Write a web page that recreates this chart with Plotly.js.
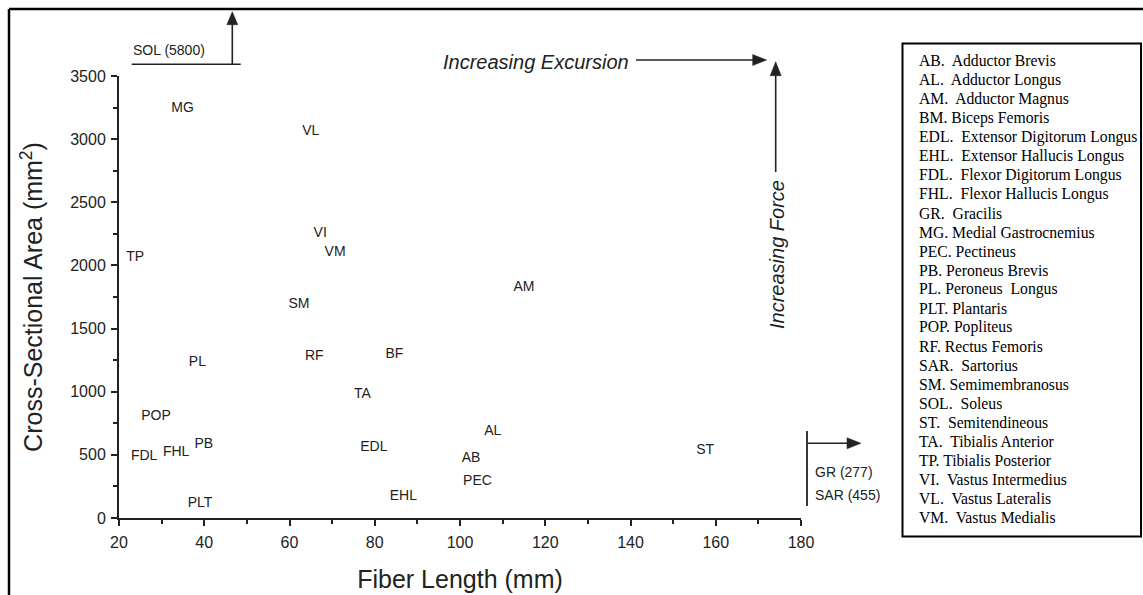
<!DOCTYPE html>
<html>
<head>
<meta charset="utf-8">
<script src="https://cdn.plot.ly/plotly-3.0.1.min.js"></script>
<style>html,body{margin:0;padding:0;background:#fff;}#chart{width:1143px;height:595px;}</style>
</head>
<body>
<div id="chart"></div>
<script>
// ---- data ----
const muscles   = ['MG','VL','VI','VM','TP','SM','RF','PL','BF','TA','POP','PB','FHL','FDL','EDL','PLT','EHL','AL','AB','PEC','ST','AM'];
const fiberLen  = [34.9, 65.0, 67.2, 70.7, 23.8, 62.2, 65.8, 38.4, 84.6, 77.1, 28.7, 39.9, 33.4, 25.9, 79.8, 39.0, 86.7, 107.7, 102.6, 104.1, 157.5, 115.0];
const csaArea   = [3240, 3060, 2255, 2100, 2065, 1690, 1280, 1235, 1295, 980, 805, 585, 520, 488, 560, 118, 170, 685, 468, 290, 535, 1825];

// off-scale muscles
const offNames  = ['SOL', 'GR', 'SAR'];
const offValues = [5800, 277, 455];

const xTickVals = [20, 40, 60, 80, 100, 120, 140, 160, 180];
const yTickVals = [0, 500, 1000, 1500, 2000, 2500, 3000, 3500];

const legendLines = [
  'AB.\u00a0 Adductor Brevis',
  'AL.\u00a0 Adductor Longus',
  'AM.\u00a0 Adductor Magnus',
  'BM. Biceps Femoris',
  'EDL.\u00a0 Extensor Digitorum Longus',
  'EHL.\u00a0 Extensor Hallucis Longus',
  'FDL.\u00a0 Flexor Digitorum Longus',
  'FHL.\u00a0 Flexor Hallucis Longus',
  'GR.\u00a0 Gracilis',
  'MG. Medial Gastrocnemius',
  'PEC. Pectineus',
  'PB. Peroneus Brevis',
  'PL. Peroneus\u00a0 Longus',
  'PLT. Plantaris',
  'POP. Popliteus',
  'RF. Rectus Femoris',
  'SAR.\u00a0 Sartorius',
  'SM. Semimembranosus',
  'SOL.\u00a0 Soleus',
  'ST.\u00a0 Semitendineous',
  'TA.\u00a0 Tibialis Anterior',
  'TP. Tibialis Posterior',
  'VI.\u00a0 Vastus Intermedius',
  'VL.\u00a0 Vastus Lateralis',
  'VM.\u00a0 Vastus Medialis'
];

// ---- layout geometry ----
const W = 1143, H = 595, ML = 119, MR = 342, MT = 76, MB = 77;
const PW = W - ML - MR, PH = H - MT - MB;
const fx = p => (p - ML) / PW;          // pixel x -> paper
const fy = p => (H - MB - p) / PH;      // pixel y -> paper

const ink = '#222';
const sans = 'Liberation Sans, Arial, Helvetica, sans-serif';
const serif = 'Liberation Serif, Times New Roman, serif';

const trace = {
  type: 'scatter',
  mode: 'text',
  x: fiberLen,
  y: csaArea,
  text: muscles,
  textposition: 'middle center',
  textfont: {family: sans, size: 14, color: ink},
  cliponaxis: false,
  hoverinfo: 'x+y+text',
  showlegend: false
};

const shapes = [
  // outer frame (top and left)
  {type:'line', xref:'paper', yref:'paper', x0: fx(9), x1: fx(1143), y0: fy(9), y1: fy(9), line:{color:'#000', width:2.5}},
  {type:'line', xref:'paper', yref:'paper', x0: fx(9), x1: fx(9), y0: fy(9), y1: fy(595), line:{color:'#000', width:2.5}},
  // legend box
  {type:'rect', xref:'paper', yref:'paper', x0: fx(902.5), x1: fx(1141), y0: fy(43.5), y1: fy(536.5), line:{color:'#000', width:2}, fillcolor:'rgba(0,0,0,0)'},
  // SOL baseline
  {type:'line', xref:'paper', yref:'paper', x0: fx(131.7), x1: fx(240.7), y0: fy(64.3), y1: fy(64.3), line:{color:ink, width:1.5}},
  // GR / SAR bar
  {type:'line', xref:'paper', yref:'paper', x0: fx(807), x1: fx(807), y0: fy(431), y1: fy(506), line:{color:ink, width:1.8}}
];

// arrow = line shape + filled triangular head (pixel geometry converted to paper)
function arrow(tipX, tipY, tailX, tailY, len, half) {
  const dx = tipX - tailX, dy = tipY - tailY, d = Math.hypot(dx, dy);
  const ux = dx / d, uy = dy / d;
  const bx = tipX - ux * len, by = tipY - uy * len;
  shapes.push({type:'line', xref:'paper', yref:'paper', x0: fx(tailX), y0: fy(tailY), x1: fx(bx + ux * 2), y1: fy(by + uy * 2), line:{color: ink, width: 1.6}});
  const p1 = [bx - uy * half, by + ux * half], p2 = [bx + uy * half, by - ux * half];
  shapes.push({type:'path', xref:'paper', yref:'paper',
    path: 'M ' + fx(tipX) + ',' + fy(tipY) + ' L ' + fx(p1[0]) + ',' + fy(p1[1]) + ' L ' + fx(p2[0]) + ',' + fy(p2[1]) + ' Z',
    fillcolor: ink, line:{color: ink, width: 0.5}});
}
arrow(232.3, 11.7, 232.3, 64.3, 13, 5.5);
arrow(766.7, 60, 636, 60, 14, 5.5);
arrow(775.7, 61.7, 775.7, 172, 14, 5.5);
arrow(861, 443.3, 807.7, 443.3, 14, 5.5);

function label(text, px, py, opts) {
  return Object.assign({xref:'paper', yref:'paper', x: fx(px), y: fy(py), text: text, showarrow:false,
          xanchor:'center', yanchor:'middle', font:{family: sans, size: 14, color: ink}}, opts || {});
}

const annotations = [
  label(offNames[0] + ' (' + offValues[0] + ')', 168.8, 50),
  label('<i>Increasing Excursion</i>', 536.3, 61.7, {font:{family: sans, size: 20, color: ink}}),
  label('<i>Increasing Force</i>', 777, 255, {textangle: -90, font:{family: sans, size: 20, color: ink}}),
  label(offNames[1] + ' (' + offValues[1] + ')', 813, 472.3, {xanchor:'left'}),
  label(offNames[2] + ' (' + offValues[2] + ')', 813, 495, {xanchor:'left'})
];

legendLines.forEach((t, i) => {
  annotations.push({xref:'paper', yref:'paper', x: fx(916.5), y: fy(61 + i * 19.01), text: t, showarrow:false,
    xanchor:'left', yanchor:'middle', font:{family: serif, size: 15.7, color:'#000'}});
});

const layout = {
  width: W, height: H,
  margin: {l: ML, r: MR, t: MT, b: MB, pad: 0},
  paper_bgcolor: '#fff', plot_bgcolor: '#fff',
  font: {family: sans, color: ink},
  xaxis: {
    range: [20, 180], tickvals: xTickVals, ticktext: xTickVals.map(String),
    showline: true, linewidth: 2, linecolor: ink, mirror: false,
    ticks: 'outside', ticklen: 6, tickwidth: 1.5, tickcolor: ink,
    minor: {ticks: 'outside', ticklen: 4, tickwidth: 1.5, tickcolor: ink, dtick: 10, tick0: 20, showgrid: false},
    showgrid: false, zeroline: false,
    tickfont: {family: sans, size: 16, color: ink},
    ticklabelstandoff: 3,
    title: {text: 'Fiber Length (mm)', font: {family: sans, size: 25, color: ink}, standoff: 20},
    automargin: false, fixedrange: true
  },
  yaxis: {
    range: [0, 3500], tickvals: yTickVals, ticktext: yTickVals.map(String),
    showline: true, linewidth: 2, linecolor: ink, mirror: false,
    ticks: 'outside', ticklen: 6, tickwidth: 1.5, tickcolor: ink,
    minor: {ticks: 'outside', ticklen: 4, tickwidth: 1.5, tickcolor: ink, dtick: 250, tick0: 0, showgrid: false},
    showgrid: false, zeroline: false,
    tickfont: {family: sans, size: 16, color: ink},
    ticklabelstandoff: 2,
    title: {text: 'Cross-Sectional Area (mm<sup>2</sup>)', font: {family: sans, size: 25, color: ink}, standoff: 20},
    automargin: false, fixedrange: true
  },
  shapes: shapes,
  annotations: annotations,
  showlegend: false
};

Plotly.newPlot('chart', [trace], layout, {displayModeBar: false, responsive: false});
</script>
</body>
</html>
